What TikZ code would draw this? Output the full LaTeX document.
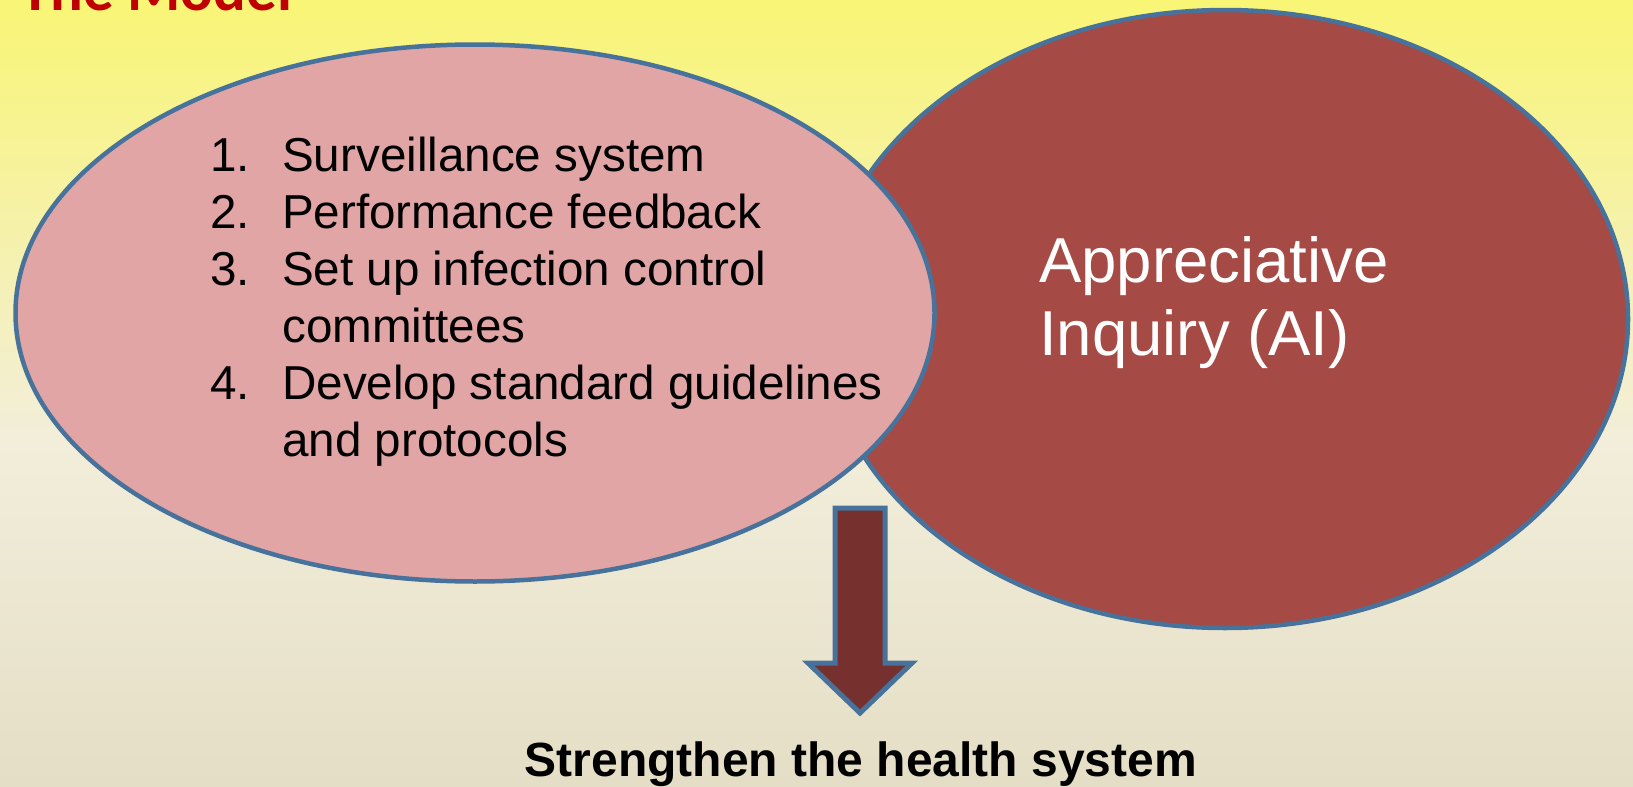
\documentclass[tikz,border=0pt]{standalone}
\usepackage{fontspec}
\setmainfont{Liberation Sans}
\newfontfamily\titlefont{Carlito}
\usetikzlibrary{shapes.geometric}
\definecolor{ModelRed}{HTML}{C00000}
\definecolor{EdgeBlue}{HTML}{46729C}
\definecolor{PinkFill}{HTML}{E1A5A5}
\definecolor{AIFill}{HTML}{A54A44}
\definecolor{ArrowFill}{HTML}{76312F}
\definecolor{BgTop}{HTML}{F9F575}
\definecolor{BgMid}{HTML}{F2EEDA}
\definecolor{BgBottom}{HTML}{E5DEC6}
% yellow fading to cream, path spans 25bp..75bp
\pgfdeclareverticalshading{backdrop}{100bp}{color(0bp)=(BgBottom); color(25bp)=(BgBottom); color(47bp)=(BgMid); color(75bp)=(BgTop); color(100bp)=(BgTop)}

\begin{document}
\begin{tikzpicture}[x=1pt,y=-1pt]
    \tikzset{blob/.style={ellipse,draw=EdgeBlue,line width=4.5pt,inner sep=0pt},
             item/.style={anchor=base west,inner sep=0pt,font=\fontsize{47.6}{57}\selectfont},
             ailine/.style={anchor=base west,inner sep=0pt,text=white,font=\fontsize{63.5}{73}\selectfont}}
    \useasboundingbox (0,0) rectangle (1633,787);
    \clip (0,0) rectangle (1633,787);
    \shade[shading=backdrop] (0,0) rectangle (1633,787);
    \node[anchor=base west,inner sep=0pt,text=ModelRed,font=\titlefont\bfseries\fontsize{61}{61}\selectfont] (title) at (20,10) {The Model};
    % the two ellipses, AI behind
    \node[blob,fill=AIFill,minimum width=806pt,minimum height=618pt] (ai) at (1225,319) {};
    \node[blob,fill=PinkFill,minimum width=919pt,minimum height=537pt] (measures) at (475,313) {};
    \foreach \i/\n in {0/1.,1/2.,2/3.,4/4.}
      \node[item] (num\i) at (210,171+57*\i) {\n};
    \foreach \txt [count=\i from 0] in {Surveillance system,Performance feedback,Set up infection control,committees,Develop standard guidelines,and protocols}
      \node[item] (m\i) at (282,171+57*\i) {\txt};
    \node[ailine] (ai1) at (1039,282) {Appreciative};
    \node[ailine] (ai2) at (1039,355) {Inquiry (AI)};
    % block arrow down to the goal
    \draw[draw=EdgeBlue,fill=ArrowFill,line width=5pt] (835,508) -- (885,508) -- (885,663) -- (912,663) -- (860,713) -- (808,663) -- (835,663) -- cycle;
    \node[anchor=base,inner sep=0pt,font=\fontsize{48}{48}\selectfont\bfseries] (goal) at (861,776) {Strengthen the health system};
\end{tikzpicture}
\end{document}
